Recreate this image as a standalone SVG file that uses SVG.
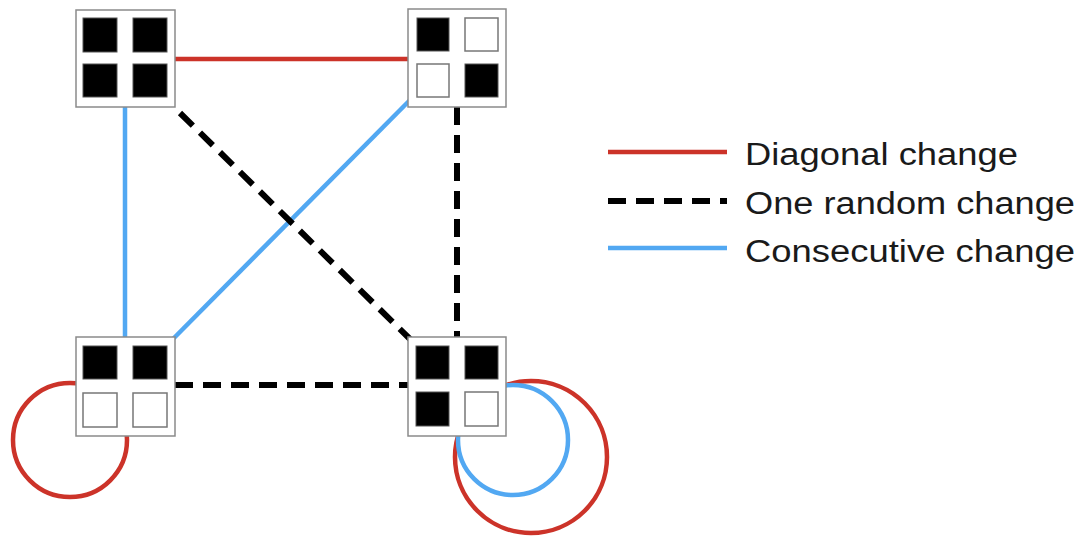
<svg xmlns="http://www.w3.org/2000/svg" width="1090" height="537" viewBox="0 0 1090 537">
<defs>
<filter id="sh" x="-10%" y="-300%" width="120%" height="700%"><feGaussianBlur stdDeviation="2.5"/></filter>
<style>
.box{fill:#fff;stroke:#8a8a8a;stroke-width:1.5}
.b{fill:#000;stroke:#555;stroke-width:1}
.w{fill:#fff;stroke:#777;stroke-width:1.5}
.red{stroke:#cc3329;stroke-width:4.5;fill:none}
.blue{stroke:#52a8f2;stroke-width:4.5;fill:none}
.dash{stroke:#000;stroke-width:6;stroke-dasharray:18 10;fill:none}
.shadow{stroke:#aaa;stroke-width:5;fill:none;filter:url(#sh);opacity:0.8}
.lbl{font-family:"Liberation Sans",Arial,sans-serif;font-size:31px;fill:#1a1a1a}
</style>
</defs>
<g id="connectors">
<line class="shadow" x1="175" y1="66" x2="408" y2="66"/>
<line class="shadow" x1="175" y1="394" x2="408" y2="394"/>
<line class="red" x1="175" y1="59" x2="408" y2="59"/>
<line class="blue" x1="125" y1="107" x2="125" y2="337"/>
<line class="blue" x1="410" y1="100" x2="172" y2="340"/>
<line class="dash" x1="180" y1="113" x2="412" y2="341"/>
<line class="dash" x1="457" y1="107" x2="457" y2="337"/>
<line class="dash" x1="175" y1="385" x2="408" y2="385"/>
<circle class="red" cx="70" cy="440" r="57"/>
<circle class="red" cx="531" cy="457" r="76"/>
<circle class="blue" cx="513" cy="440" r="55"/>
</g>
<g id="node-tl">
<rect class="box" x="76" y="10" width="99" height="97"/>
<rect class="b" x="83" y="18" width="34" height="34"/>
<rect class="b" x="133" y="18" width="34" height="34"/>
<rect class="b" x="83" y="64" width="34" height="33"/>
<rect class="b" x="133" y="64" width="34" height="33"/>
</g>
<g id="node-tr">
<rect class="box" x="408" y="9" width="98" height="98"/>
<rect class="b" x="417" y="18" width="32" height="33"/>
<rect class="w" x="465" y="18" width="33" height="33"/>
<rect class="w" x="417" y="64" width="32" height="33"/>
<rect class="b" x="465" y="64" width="33" height="33"/>
</g>
<g id="node-bl">
<rect class="box" x="76" y="337" width="99" height="99"/>
<rect class="b" x="83" y="346" width="34" height="33"/>
<rect class="b" x="133" y="346" width="34" height="33"/>
<rect class="w" x="83" y="393" width="34" height="34"/>
<rect class="w" x="133" y="393" width="34" height="34"/>
</g>
<g id="node-br">
<rect class="box" x="408" y="337" width="98" height="99"/>
<rect class="b" x="416" y="346" width="33" height="33"/>
<rect class="b" x="465" y="346" width="33" height="33"/>
<rect class="b" x="416" y="392" width="33" height="34"/>
<rect class="w" x="465" y="392" width="33" height="34"/>
</g>
<g id="legend">
<line class="shadow" x1="608" y1="162" x2="727" y2="162"/>
<line class="shadow" x1="608" y1="211" x2="727" y2="211"/>
<line class="shadow" x1="608" y1="258" x2="727" y2="258"/>
<line class="red" x1="608" y1="152" x2="727" y2="152"/>
<line class="dash" x1="608" y1="201" x2="727" y2="201"/>
<line class="blue" x1="608" y1="248" x2="727" y2="248"/>
<text class="lbl" x="745" y="165" textLength="273" lengthAdjust="spacingAndGlyphs">Diagonal change</text>
<text class="lbl" x="745" y="214" textLength="330" lengthAdjust="spacingAndGlyphs">One random change</text>
<text class="lbl" x="745" y="262" textLength="330" lengthAdjust="spacingAndGlyphs">Consecutive change</text>
</g>
</svg>
